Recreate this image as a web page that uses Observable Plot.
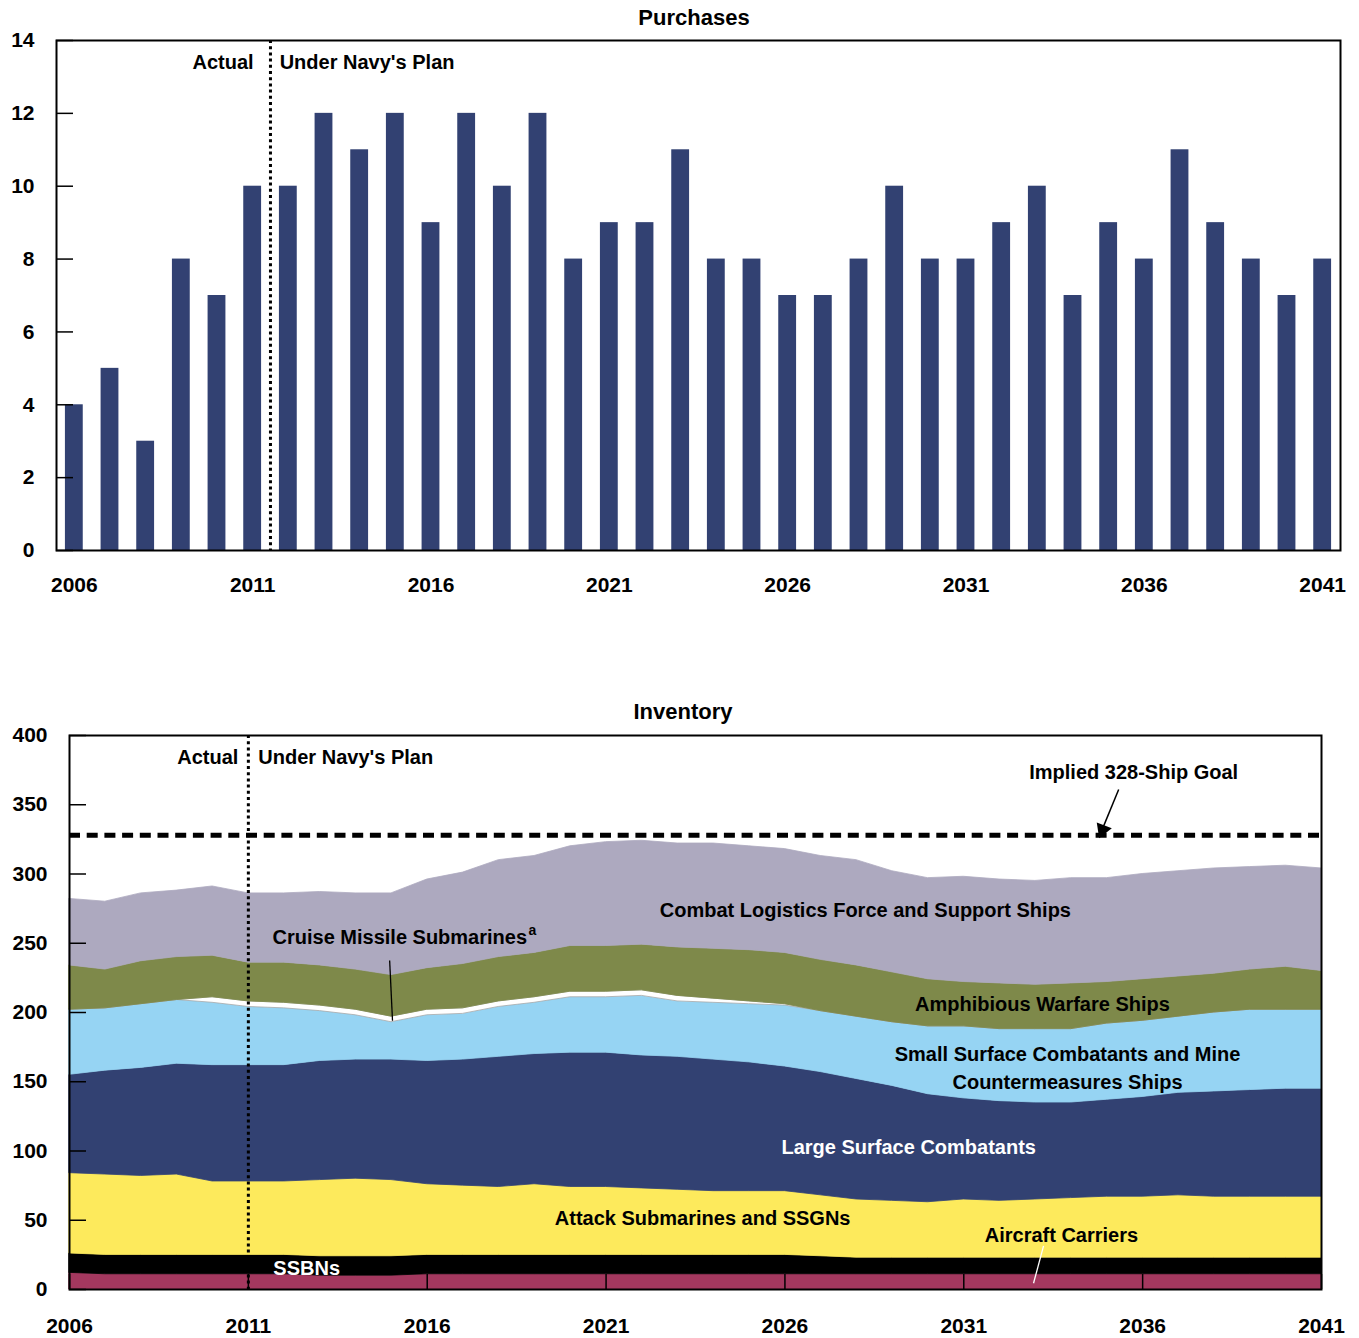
<!DOCTYPE html>
<html><head><meta charset="utf-8">
<script src="https://cdn.jsdelivr.net/npm/d3@7"></script>
<script src="https://cdn.jsdelivr.net/npm/@observablehq/plot@0.6"></script>
<style>
body{margin:0;background:#fff;}
#wrap{position:relative;width:1359px;height:1338px;font-family:"Liberation Sans",Arial,sans-serif;font-weight:bold;color:#000;}
.title{position:absolute;font-size:22px;line-height:22px;text-align:center;width:300px;}
.chart{position:absolute;left:0;}
</style></head><body>
<div id="wrap">
<div id="purchasesChart" class="chart" style="top:0px"></div>
<div id="inventoryChart" class="chart" style="top:690px"></div>
<div class="title" style="left:544px;top:7px">Purchases</div>
<div class="title" style="left:533px;top:701px">Inventory</div>
</div>
<script>
// ---------- Data ----------
const years = [2006,2007,2008,2009,2010,2011,2012,2013,2014,2015,2016,2017,2018,2019,2020,2021,2022,2023,
  2024,2025,2026,2027,2028,2029,2030,2031,2032,2033,2034,2035,2036,2037,2038,2039,2040,2041];
const xTickYears = [2006,2011,2016,2021,2026,2031,2036,2041];
const purchaseTicks = [0,2,4,6,8,10,12,14];
const inventoryTicks = [0,50,100,150,200,250,300,350,400];

const purchases = [4,5,3,8,7,10,10,12,11,12,9,12,10,12,8,9,9,11,8,8,7,7,8,10,8,8,9,10,7,9,8,11,9,8,7,8];

const categories = ["Aircraft Carriers","SSBNs","Attack Submarines and SSGNs","Large Surface Combatants",
  "Small Surface Combatants and Mine Countermeasures Ships","Cruise Missile Submarines",
  "Amphibious Warfare Ships","Combat Logistics Force and Support Ships"];
const carriers = [12,11,11,11,11,11,11,10,10,10,11,11,11,11,11,11,11,11,11,11,11,11,11,11,11,11,11,11,11,11,11,11,11,11,11,11];
const ssbns    = [14,14,14,14,14,14,14,14,14,14,14,14,14,14,14,14,14,14,14,14,14,13,12,12,12,12,12,12,12,12,12,12,12,12,12,12];
const attackSubs = [58,58,57,58,53,53,53,55,56,55,51,50,49,51,49,49,48,47,46,46,46,44,42,41,40,42,41,42,43,44,44,45,44,44,44,44];
const largeSurface = [71,75,78,80,84,84,84,86,86,87,89,91,94,94,97,97,96,96,95,93,90,89,87,83,78,73,72,70,69,70,72,74,76,77,78,78];
const smallSurface = [47,45,46,46,45,42,41,36,32,27,33,33,36,37,40,40,43,40,41,42,44,44,45,46,49,52,52,53,53,55,55,55,57,58,57,57];
const cruiseSubs = [0,0,0,0,4,4,4,4,4,4,4,4,4,4,4,4,4,4,3,2,1,0,0,0,0,0,0,0,0,0,0,0,0,0,0,0];
const amphibious = [32,28,31,31,30,28,29,29,29,30,30,32,32,32,33,33,33,35,36,37,37,37,37,36,34,32,33,32,33,30,30,29,28,29,31,28];
const support = [48,49,49,48,50,50,50,53,55,59,64,66,70,70,72,75,75,75,76,75,75,75,76,73,73,76,75,75,76,75,76,76,76,74,73,74];

const fills = ["#A4385F","#000000","#FDEA5C","#324172","#96D4F3","#FFFFFF","#7E894A","#ADA9BF"];
const strokes = ["#A4385F","#000000","#FDEA5C","#324172","#96D4F3","#A8A8A8","#7E894A","#ADA9BF"];

// ---------- Tables ----------
const purchaseRows = years.map((year, i) => ({year, value: purchases[i]}));
const seriesValues = [carriers, ssbns, attackSubs, largeSurface, smallSurface, cruiseSubs, amphibious, support];
const invRows = [];
categories.forEach((cat, c) => years.forEach((year, i) => invRows.push({category: cat, idx: c, year, value: seriesValues[c][i]})));

const font = '"Liberation Sans", Arial, sans-serif';
const baseStyle = {fontFamily: font, fontSize: "21px", fontWeight: "bold", color: "#000", background: "transparent", overflow: "visible"};

// ---------- Purchases ----------
const purchasesPlot = Plot.plot({
  width: 1359, height: 610, marginTop: 40, marginBottom: 60, marginLeft: 56, marginRight: 19,
  style: baseStyle,
  x: {type: "band", domain: years, paddingInner: 0.5, paddingOuter: 0.25, align: 0.5, round: false},
  y: {domain: [0, 14]},
  marks: [
    Plot.barY(purchaseRows, {x: "year", y: "value", fill: "#324172"}),
    Plot.ruleX([2011], {dx: 17.8, stroke: "#000", strokeWidth: 3, strokeDasharray: "3,3.2"}),
    Plot.text(["Actual"], {x: [2011], text: d => d, frameAnchor: "top", lineAnchor: "middle", dy: 22, dx: 1, textAnchor: "end", fontSize: 20, fontWeight: "bold"}),
    Plot.text(["Under Navy's Plan"], {x: [2011], text: d => d, frameAnchor: "top", lineAnchor: "middle", dy: 22, dx: 27, textAnchor: "start", fontSize: 20, fontWeight: "bold"}),
    Plot.axisX({ticks: xTickYears, tickSize: 0, tickPadding: 27, tickFormat: d => String(d), label: null}),
    Plot.axisY({ticks: purchaseTicks, tickSize: 0, tickPadding: 22, label: null}),
    Plot.axisY({ticks: purchaseTicks, tickSize: -17, tickFormat: () => "", strokeWidth: 1.5, label: null}),
    Plot.frame({stroke: "#000", strokeWidth: 2})
  ]
});
document.getElementById("purchasesChart").append(purchasesPlot);

// ---------- Inventory ----------
const lbl = {fontSize: 20, fontWeight: "bold", text: d => d};
const inventoryPlot = Plot.plot({
  width: 1359, height: 648, marginTop: 45, marginBottom: 49, marginLeft: 69, marginRight: 38,
  style: baseStyle,
  x: {domain: [2006, 2041]},
  y: {domain: [0, 400]},
  marks: [
    Plot.areaY(invRows, {x: "year", y: "value", z: "category",
      fill: d => fills[d.idx], stroke: d => strokes[d.idx], strokeWidth: 0.8}),
    Plot.ruleX([2011], {stroke: "#000", strokeWidth: 3, strokeDasharray: "3,3.2"}),
    Plot.ruleY([328], {stroke: "#000", strokeWidth: 5, strokeDasharray: "11,6.7"}),
    Plot.text(["Actual"], {...lbl, x: [2011], y: [384], dx: -10, textAnchor: "end"}),
    Plot.text(["Under Navy's Plan"], {...lbl, x: [2011], y: [384], dx: 10, textAnchor: "start"}),
    Plot.text(["Implied 328-Ship Goal"], {...lbl, x: [2035.75], y: [373]}),
    Plot.link([0], {x1: [2035.33], y1: [361], x2: [2034.9], y2: [334], stroke: "#000", strokeWidth: 1.5}),
    Plot.dot([0], {x: [2034.88], y: [332], symbol: "triangle", r: 6, rotate: 201.4, fill: "#000", stroke: null}),
    Plot.text(["Combat Logistics Force and Support Ships"], {...lbl, x: [2028.25], y: [273.6]}),
    Plot.text(["Cruise Missile Submarines"], {...lbl, x: [2011.675], y: [254], textAnchor: "start"}),
    Plot.text(["a"], {...lbl, fontSize: 14, x: [2011.675], y: [259], dx: 256, textAnchor: "start"}),
    Plot.link([0], {x1: [2014.95], y1: [237.5], x2: [2015.03], y2: [194], stroke: "#000", strokeWidth: 1.3}),
    Plot.text(["Amphibious Warfare Ships"], {...lbl, x: [2033.2], y: [205.8]}),
    Plot.text(["Small Surface Combatants and Mine\nCountermeasures Ships"], {...lbl, x: [2033.9], y: [161], lineHeight: 1.4}),
    Plot.text(["Large Surface Combatants"], {...lbl, x: [2029.46], y: [102.5], fill: "#fff"}),
    Plot.text(["Attack Submarines and SSGNs"], {...lbl, x: [2023.7], y: [51.3]}),
    Plot.text(["Aircraft Carriers"], {...lbl, x: [2033.73], y: [39]}),
    Plot.link([0], {x1: [2033.23], y1: [31.5], x2: [2032.95], y2: [4.5], stroke: "#fff", strokeWidth: 1.3}),
    Plot.text(["SSBNs"], {...lbl, x: [2012.63], y: [15.2], fill: "#fff"}),
    Plot.axisX({ticks: xTickYears, tickSize: 0, tickPadding: 29, tickFormat: d => String(d), label: null}),
    Plot.axisX({ticks: xTickYears, tickSize: -15, tickFormat: () => "", strokeWidth: 1.5, label: null}),
    Plot.axisY({ticks: inventoryTicks, tickSize: 0, tickPadding: 22, label: null}),
    Plot.axisY({ticks: inventoryTicks, tickSize: -17, tickFormat: () => "", strokeWidth: 1.5, label: null}),
    Plot.frame({stroke: "#000", strokeWidth: 2})
  ]
});
document.getElementById("inventoryChart").append(inventoryPlot);
</script>
</body></html>
